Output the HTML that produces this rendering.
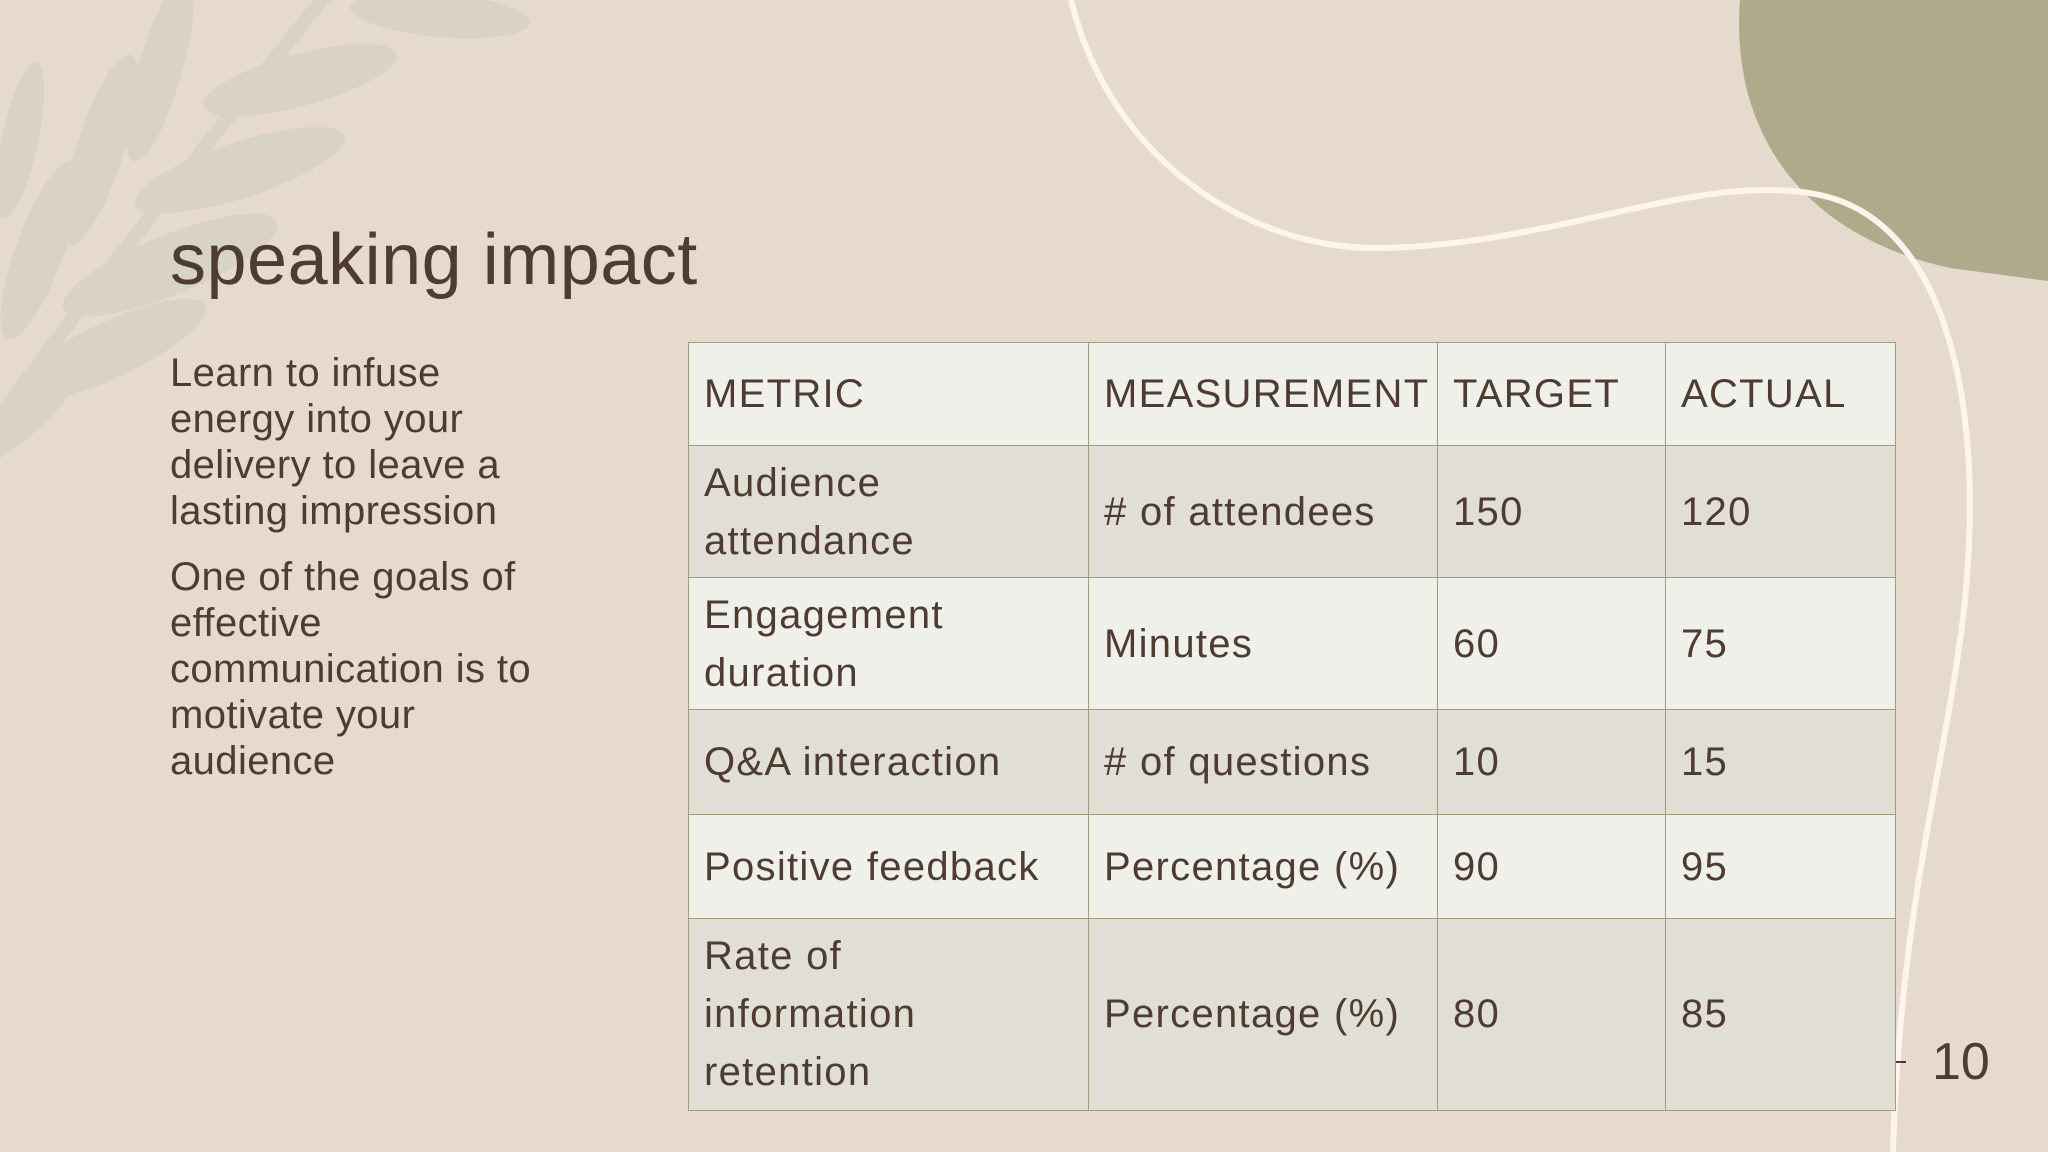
<!DOCTYPE html>
<html><head><meta charset="utf-8"><style>
html,body{margin:0;padding:0}
body{width:2048px;height:1152px;position:relative;overflow:hidden;background:#e6dace;font-family:"Liberation Sans",sans-serif;color:#4e3b31}
.c{position:absolute;box-sizing:border-box;display:flex;align-items:center;padding-left:15px;font-size:40px;line-height:58px;letter-spacing:1.3px;border:1.5px solid #9e9e7a}
.l{background:#f0f0eb}.d{background:#e0ded5}
</style></head><body>
<svg width="2048" height="1152" style="position:absolute;left:0;top:0">
<g fill="#d9d2c6">
<path d="M-10,430 Q120,250 330,-10" stroke="#d9d2c6" stroke-width="14" fill="none"/>
<ellipse cx="110" cy="350" rx="105" ry="28" transform="rotate(-25 110 350)"/>
<ellipse cx="170" cy="265" rx="115" ry="30" transform="rotate(-22 170 265)"/>
<ellipse cx="240" cy="170" rx="110" ry="28" transform="rotate(-18 240 170)"/>
<ellipse cx="300" cy="80" rx="100" ry="26" transform="rotate(-15 300 80)"/>
<ellipse cx="440" cy="15" rx="90" ry="22" transform="rotate(5 440 15)"/>
<ellipse cx="40" cy="250" rx="95" ry="24" transform="rotate(-70 40 250)"/>
<ellipse cx="100" cy="150" rx="100" ry="24" transform="rotate(-72 100 150)"/>
<ellipse cx="160" cy="70" rx="95" ry="22" transform="rotate(-74 160 70)"/>
<ellipse cx="15" cy="420" rx="80" ry="22" transform="rotate(-40 15 420)"/>
<ellipse cx="20" cy="140" rx="80" ry="18" transform="rotate(-78 20 140)"/>
</g>
<path d="M1740,0 C1730,130 1800,235 1950,268 L2048,281 L2048,0 Z" fill="#aeaa8c"/>
<path d="M1071,0 C1110,160 1250,250 1380,248 C1560,245 1700,170 1820,195 C1945,222 1985,400 1965,600 C1948,760 1900,900 1893,1152" fill="none" stroke="#fdf4ec" stroke-width="6"/>
</svg>
<div style="position:absolute;left:170px;top:218px;font-size:72px;line-height:84px;letter-spacing:0.5px">speaking impact</div>
<div style="position:absolute;left:170px;top:350px;width:400px;font-size:40px;line-height:46px;letter-spacing:0.4px">
<p style="margin:0 0 20px 0">Learn to infuse energy into your delivery to leave a lasting impression</p>
<p style="margin:0">One of the goals of effective communication is to motivate your audience</p>
</div>
<div id="tbl"></div>
<div style="position:absolute;left:1896px;top:1061px;width:10px;height:2px;background:#4e3b31"></div>
<div style="position:absolute;left:1932px;top:1032px;font-size:52px;line-height:60px">10</div>
<script>
const colX=[688,1088,1437,1665,1894];
const rowY=[342,445,577,709,814,918,1109];
const header=["METRIC","MEASUREMENT","TARGET","ACTUAL"];
const metrics=["Audience<br>attendance","Engagement<br>duration","Q&amp;A interaction","Positive feedback","Rate of<br>information<br>retention"];
const measures=["# of attendees","Minutes","# of questions","Percentage (%)","Percentage (%)"];
const targets=[150,60,10,90,80];
const actuals=[120,75,15,95,85];
const tbl=document.getElementById('tbl');
const rows=[header].concat(metrics.map((m,i)=>[m,measures[i],targets[i],actuals[i]]));
rows.forEach((r,ri)=>{r.forEach((v,ci)=>{
const el=document.createElement('div');
el.className='c '+(ri%2===0?'l':'d');
el.style.left=colX[ci]+'px';el.style.top=rowY[ri]+'px';
el.style.width=(colX[ci+1]-colX[ci]+1.5)+'px';el.style.height=(rowY[ri+1]-rowY[ri]+1.5)+'px';
el.innerHTML=v;


tbl.appendChild(el);});});
</script>
</body></html>
